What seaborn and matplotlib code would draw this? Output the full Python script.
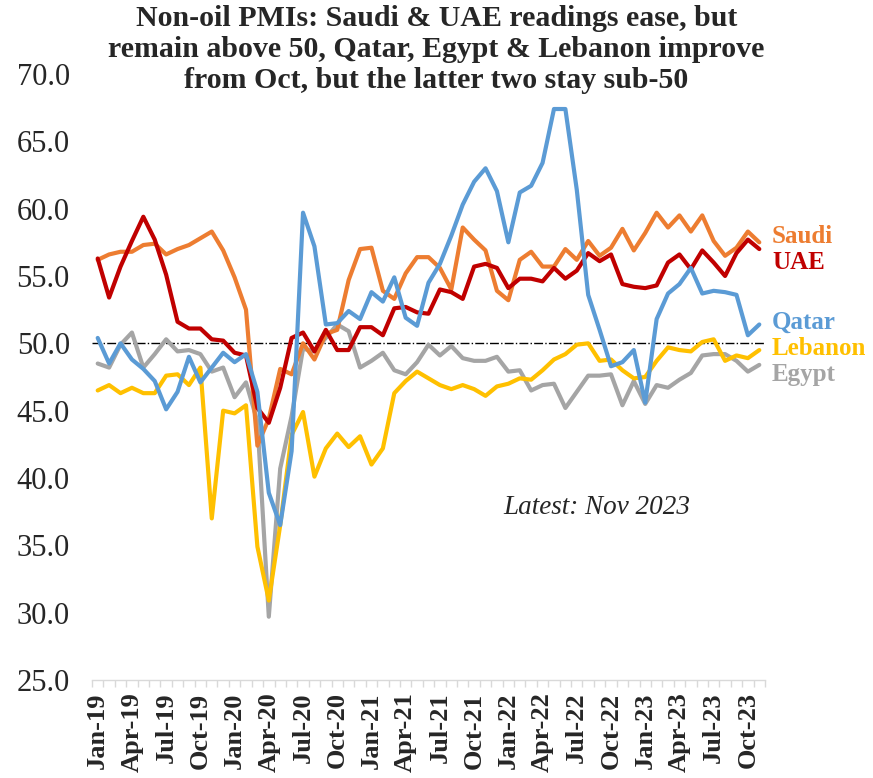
import pandas as pd
import matplotlib.pyplot as plt
import matplotlib.transforms as mtransforms
import seaborn as sns

# Monthly non-oil PMI readings, Jan-2019 .. Nov-2023
months = pd.date_range("2019-01-01", "2023-11-01", freq="MS")

saudi = [56.2, 56.6, 56.8, 56.8, 57.3, 57.4, 56.6, 57.0, 57.3, 57.8, 58.3, 56.9,
         54.9, 52.5, 42.4, 44.4, 48.1, 47.7, 50.0, 48.8, 50.7, 51.0, 54.7, 57.0,
         57.1, 53.9, 53.3, 55.2, 56.4, 56.4, 55.6, 54.0, 58.6, 57.7, 56.9, 53.9,
         53.2, 56.2, 56.8, 55.7, 55.7, 57.0, 56.2, 57.6, 56.5, 57.1, 58.5, 56.9,
         58.2, 59.7, 58.6, 59.5, 58.3, 59.5, 57.6, 56.5, 57.1, 58.3, 57.5]

uae = [56.3, 53.4, 55.7, 57.6, 59.4, 57.7, 55.1, 51.6, 51.1, 51.1, 50.3, 50.2,
       49.3, 49.1, 45.2, 44.1, 46.7, 50.4, 50.8, 49.4, 51.0, 49.5, 49.5, 51.2,
       51.2, 50.6, 52.6, 52.7, 52.3, 52.2, 54.0, 53.8, 53.3, 55.7, 55.9, 55.6,
       54.1, 54.8, 54.8, 54.6, 55.6, 54.8, 55.4, 56.7, 56.1, 56.6, 54.4, 54.2,
       54.1, 54.3, 56.0, 56.6, 55.5, 56.9, 56.0, 55.0, 56.7, 57.7, 57.0]

qatar = [50.4, 48.5, 50.0, 48.8, 48.1, 47.2, 45.1, 46.4, 49.0, 47.1, 48.2, 49.3,
         48.6, 49.2, 46.4, 38.9, 36.5, 42.0, 59.7, 57.2, 51.4, 51.5, 52.4, 51.8,
         53.8, 53.1, 54.9, 51.9, 51.3, 54.5, 55.9, 58.0, 60.3, 62.0, 63.0, 61.3,
         57.5, 61.2, 61.7, 63.4, 67.4, 67.4, 61.4, 53.6, 51.0, 48.3, 48.6, 49.5,
         45.6, 51.8, 53.7, 54.4, 55.6, 53.7, 53.9, 53.8, 53.6, 50.6, 51.4]

lebanon = [46.5, 46.9, 46.3, 46.7, 46.3, 46.3, 47.6, 47.7, 46.9, 48.2, 37.0, 45.0,
           44.8, 45.4, 34.9, 30.9, 36.5, 43.2, 44.9, 40.1, 42.2, 43.3, 42.3, 43.1,
           41.0, 42.2, 46.3, 47.2, 47.9, 47.4, 46.9, 46.6, 46.9, 46.6, 46.1, 46.8,
           47.0, 47.4, 47.3, 48.0, 48.8, 49.2, 49.9, 50.0, 48.7, 48.8, 48.0, 47.4,
           47.5, 48.7, 49.7, 49.5, 49.4, 50.1, 50.3, 48.7, 49.1, 48.9, 49.5]

egypt = [48.5, 48.2, 49.9, 50.8, 48.2, 49.2, 50.3, 49.4, 49.5, 49.2, 47.9, 48.2,
         46.0, 47.1, 44.2, 29.7, 40.7, 44.6, 49.6, 49.4, 50.4, 51.4, 50.9, 48.2,
         48.7, 49.3, 48.0, 47.7, 48.6, 49.9, 49.1, 49.8, 48.9, 48.7, 48.7, 49.0,
         47.9, 48.0, 46.5, 46.9, 47.0, 45.2, 46.4, 47.6, 47.6, 47.7, 45.4, 47.2,
         45.5, 46.9, 46.7, 47.3, 47.8, 49.1, 49.2, 49.2, 48.7, 47.9, 48.4]

series = {"Egypt": egypt, "Lebanon": lebanon, "Saudi": saudi, "UAE": uae, "Qatar": qatar}
colors = {"Saudi": "#ED7D31", "UAE": "#C00000", "Qatar": "#5B9BD5",
          "Lebanon": "#FFC000", "Egypt": "#A5A5A5"}
# where the end labels sit (data units)
label_y = {"Saudi": 57.9, "UAE": 56.0, "Qatar": 51.6, "Lebanon": 49.6, "Egypt": 47.7}

title = ("Non-oil PMIs: Saudi & UAE readings ease, but\n"
         "remain above 50, Qatar, Egypt & Lebanon improve\n"
         "from Oct, but the latter two stay sub-50")


def build_frame():
    frames = []
    for name, vals in series.items():
        frames.append(pd.DataFrame({"idx": range(len(months)), "pmi": vals, "country": name}))
    return pd.concat(frames, ignore_index=True)


def main():
    sns.set_theme(style="white")
    plt.rcParams['font.family'] = ['Liberation Serif', 'DejaVu Serif']

    df = build_frame()

    fig = plt.figure(figsize=(8.73, 7.78), dpi=100)
    ax = fig.add_axes([92 / 873, 98 / 778, 673 / 873, 606 / 778])

    sns.lineplot(data=df, x="idx", y="pmi", hue="country", hue_order=list(series.keys()),
                 palette=colors, linewidth=3, legend=False, ax=ax,
                 solid_joinstyle="round", solid_capstyle="round")

    ax.axhline(50, color="black", linestyle="-.", linewidth=1, zorder=1)

    n = len(months)
    ax.set_xlim(-0.5, n - 0.5)
    ax.set_ylim(25, 70)

    # y axis
    ax.set_yticks(range(25, 71, 5))
    ax.set_yticklabels([f"{v:.1f}" for v in range(25, 71, 5)], fontsize=22)
    ax.tick_params(axis="y", length=0, pad=16)

    # x axis: labels every quarter, ticks between every month
    lab_idx = list(range(0, n, 3))
    ax.set_xticks(lab_idx)
    ax.set_xticklabels([months[i].strftime("%b-%y") for i in lab_idx],
                       rotation=90, fontsize=19, fontweight="bold")
    ax.set_xticks([i - 0.5 for i in range(n + 1)], minor=True)
    ax.tick_params(axis="x", which="major", length=0, pad=9)
    ax.tick_params(axis="x", which="minor", length=5, width=1, color="#D9D9D9",
                   direction="out", bottom=True)
    ax.set_xlabel("")
    ax.set_ylabel("")

    for side in ["top", "right", "left"]:
        ax.spines[side].set_visible(False)
    ax.spines["bottom"].set_color("#D9D9D9")
    ax.spines["bottom"].set_linewidth(1)

    # series labels at the right end
    trans = mtransforms.blended_transform_factory(ax.transAxes, ax.transData)
    for name, yv in label_y.items():
        ax.text(1.0104, yv, name, transform=trans, color=colors[name],
                fontsize=18, fontweight="bold", ha="left", va="center", clip_on=False)

    ax.text(0.75, 0.285, "Latest: Nov 2023", transform=ax.transAxes,
            fontsize=19.5, fontstyle="italic", ha="center", va="center")

    fig.text(0.5, 0.994, title, ha="center", va="top", fontsize=21.5,
             fontweight="bold", linespacing=1.2)

    fig.savefig("out.png", dpi=100)
    plt.close(fig)


if __name__ == "__main__":
    main()
